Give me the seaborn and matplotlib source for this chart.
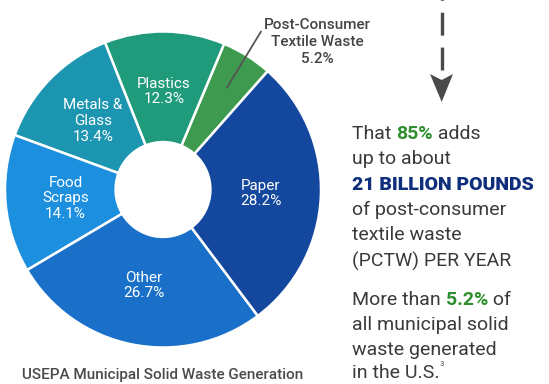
import numpy as np
import pandas as pd
import matplotlib
matplotlib.use("Agg")
import matplotlib.pyplot as plt
import seaborn as sns
from matplotlib import font_manager as fm
from matplotlib.patches import Polygon

# ---------------- data ----------------
categories = ["Post-Consumer\nTextile Waste", "Plastics", "Metals &\nGlass",
              "Food\nScraps", "Other", "Paper"]
shares = [5.2, 12.3, 13.4, 14.1, 26.7, 28.2]
pct_labels = ["5.2%", "12.3%", "13.4%", "14.1%", "26.7%", "28.2%"]
slice_colors = ["#3d9a4e", "#1f9a7a", "#1c95b0", "#1c8fdf", "#1a70c9", "#14489f"]
caption = "USEPA Municipal Solid Waste Generation"
highlight_pct = "85%"
highlight_amount = "21 BILLION POUNDS"
highlight_share = "5.2%"

sns.set_theme(style="white")
plt.rcParams['font.family'] = ['Roboto', 'DejaVu Sans']
plt.rcParams['lines.scale_dashes'] = False

names = {f.name for f in fm.fontManager.ttflist}
narrow = 'Liberation Sans Narrow' if 'Liberation Sans Narrow' in names else None

W, H = 549, 384
fig = plt.figure(figsize=(W / 100, H / 100), dpi=100)
fig.patch.set_facecolor('white')

df = pd.DataFrame({'category': categories, 'share': shares, 'label': pct_labels})
palette = sns.color_palette(slice_colors)

# ---------------- donut ----------------
cx, cy, R = 163, 189.5, 158
ax = fig.add_axes([(cx - R) / W, (H - cy - R) / H, 2 * R / W, 2 * R / H])
wedges, _ = ax.pie(df['share'], colors=palette, startangle=48.5, counterclock=True,
                   radius=1, wedgeprops=dict(width=0.70, edgecolor='white', linewidth=1.8))
ax.set_xlim(-1, 1)
ax.set_ylim(-1, 1)
ax.set_axis_off()

for i, w in enumerate(wedges):
    if i == 0:
        continue
    th = np.deg2rad((w.theta1 + w.theta2) / 2)
    r = 0.62
    ax.text(r * np.cos(th), r * np.sin(th), f"{df['category'][i]}\n{df['label'][i]}",
            ha='center', va='center', color='white', fontsize=11, linespacing=1.15)

# overlay axes in pixel coords
ov = fig.add_axes([0, 0, 1, 1], zorder=5)
ov.set_xlim(0, W)
ov.set_ylim(H, 0)
ov.set_axis_off()
ov.patch.set_alpha(0)

# textile callout
w0 = wedges[0]
th0 = np.deg2rad((w0.theta1 + w0.theta2) / 2)
px = cx + 0.76 * R * np.cos(th0)
py = cy - 0.76 * R * np.sin(th0)
ov.plot([px, 261], [py, 31.5], color='#555555', lw=1.3)
ov.text(317, 42, f"{df['category'][0]}\n{df['label'][0]}", ha='center', va='center',
        fontsize=11, fontweight='medium', color='#444444', linespacing=1.3)

# dashed arrow
ov.plot([441.7, 441.7], [70, -30], color='#4a4a4a', lw=2.4,
        linestyle=(0, (16.5, 8.6)), solid_capstyle='butt', dash_capstyle='butt')
ov.add_patch(Polygon([[430, 74], [441.7, 80], [453, 74], [441.7, 102]], closed=True,
                     facecolor='#4a4a4a', edgecolor='none'))

# right text block
body = '#3a3a3a'
green = '#2f8f2f'
navy = '#0f2f7c'
fs = 14


def rich_line(x, y, parts):
    s, c, wt = parts[0]
    prev = ov.text(x, y, s, color=c, fontweight=wt, fontsize=fs, ha='left', va='center')
    for s, c, wt in parts[1:]:
        prev = ov.annotate(s, xy=(1, 0), xycoords=prev, xytext=(0, 0),
                           textcoords='offset points', ha='left', va='bottom',
                           color=c, fontweight=wt, fontsize=fs)


x0 = 352
rich_line(x0, 134, [("That ", body, 'normal'), (highlight_pct, green, 'bold'), (" adds", body, 'normal')])
rich_line(x0, 159, [("up to about", body, 'normal')])
rich_line(x0, 185, [(highlight_amount, navy, 'heavy')])
rich_line(x0, 210, [("of post-consumer", body, 'normal')])
rich_line(x0, 235, [("textile waste", body, 'normal')])
rich_line(x0, 261, [("(PCTW) PER YEAR", body, 'normal')])
rich_line(x0, 300, [("More than ", body, 'normal'), (highlight_share, green, 'bold'), (" of", body, 'normal')])
rich_line(x0, 325, [("all municipal solid", body, 'normal')])
rich_line(x0, 350, [("waste generated", body, 'normal')])
rich_line(x0, 373, [("in the U.S.", body, 'normal')])
ov.annotate("³", xy=(1, 0.5), xycoords=ov.texts[-1], ha='left', va='bottom',
            fontsize=9, color='#777777')

# caption
if narrow:
    ov.text(163, 375, caption, ha='center', va='center', fontsize=13.5,
            family=[narrow, 'DejaVu Sans'], color='#4a4a4a')
else:
    ov.text(163, 375, caption, ha='center', va='center', fontsize=11,
            fontweight='medium', color='#4a4a4a')

fig.savefig('out.png', dpi=100, facecolor='white')
